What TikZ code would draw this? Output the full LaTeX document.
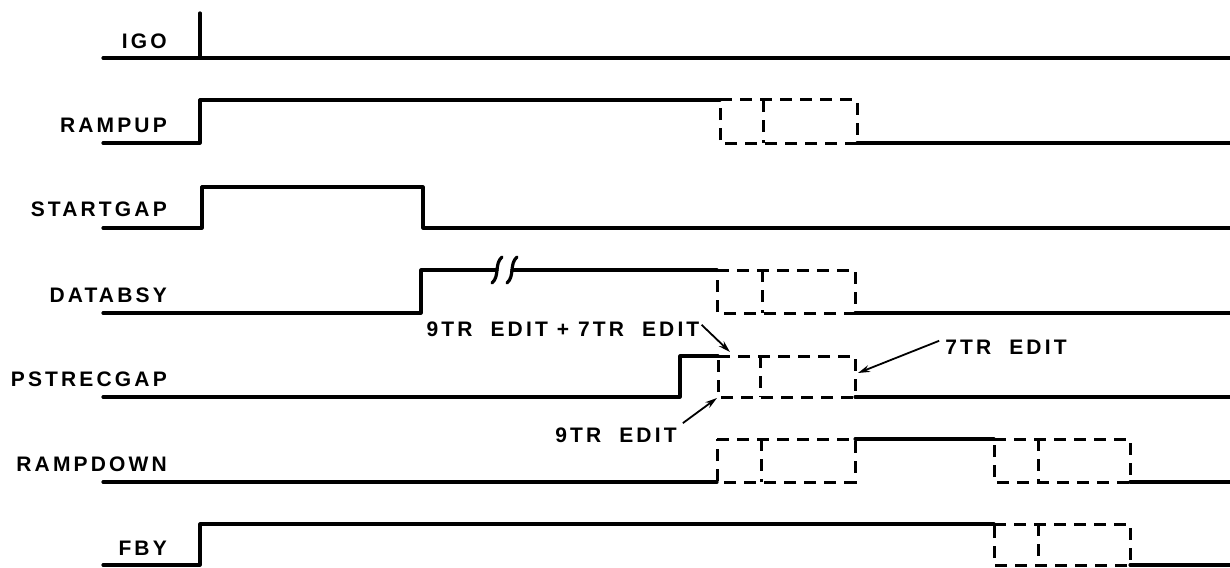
\documentclass[tikz,border=0pt]{standalone}
\usepackage{fontspec}
\setmainfont{Liberation Sans}
\newfontfamily\lbfont[LetterSpace=15]{Liberation Sans Bold}
\usetikzlibrary{arrows.meta}
\newcommand\tdbox[5]{%
  \draw[dsh] (#1,#4) -- (#3,#4) -- (#3,#5) -- (#1,#5) -- cycle;
  \draw[dsh] (#2,#4) -- (#2,#5);}
\begin{document}
\begin{tikzpicture}[x=1pt,y=-1pt,
  wave/.style={line width=3.2pt, line join=round, line cap=round},
  dsh/.style={line width=3pt, dash pattern=on 12pt off 8pt},
  lbl/.style={anchor=base east, inner sep=0pt, font=\lbfont\fontsize{21}{24}\selectfont},
  ann/.style={anchor=base, inner sep=0pt, font=\lbfont\fontsize{21}{24}\selectfont},
  arr/.style={line width=1.8pt, -{Stealth[length=12pt,width=7pt]}}]
\useasboundingbox (0,0) rectangle (1230,567);
% labels
\node[lbl] (lIGO) at (167,49) {IGO};
\node[lbl] (lRU) at (167,132) {RAMPUP};
\node[lbl] (lSG) at (167,216) {STARTGAP};
\node[lbl] (lDB) at (167,302) {DATABSY};
\node[lbl] (lPS) at (167,386) {PSTRECGAP};
\node[lbl] (lRD) at (167,471) {RAMPDOWN};
\node[lbl] (lFB) at (167,555) {FBY};
% IGO
\draw[wave] (103,58) -- (1230,58);
\draw[wave] (200,13) -- (200,58);
% RAMPUP
\draw[wave] (103,143) -- (200,143) -- (200,100) -- (720,100);
\tdbox{720}{763}{857}{100}{143}
\draw[wave] (857,143) -- (1230,143);
% STARTGAP
\draw[wave] (103,228) -- (202,228) -- (202,187) -- (423,187) -- (423,228) -- (1230,228);
% DATABSY
\draw[wave] (103,313) -- (421,313) -- (421,270) -- (497,270);
\draw[wave] (512,270) -- (717,270);
\draw[wave] (492,283) .. controls (500,276) and (494,264) .. (502,257);
\draw[wave] (507,283) .. controls (515,276) and (509,264) .. (517,257);
\tdbox{717}{762}{855}{270}{313}
\draw[wave] (855,313) -- (1230,313);
% PSTRECGAP
\draw[wave] (103,397) -- (680,397) -- (680,356) -- (718,356);
\tdbox{718}{760}{855}{356}{397}
\draw[wave] (855,397) -- (1230,397);
% RAMPDOWN
\draw[wave] (103,482) -- (717,482);
\tdbox{717}{761}{855}{439}{482}
\draw[wave] (855,439) -- (994,439);
\tdbox{994}{1038}{1130}{439}{482}
\draw[wave] (1130,482) -- (1230,482);
% FBY
\draw[wave] (103,565) -- (200,565) -- (200,524) -- (994,524);
\tdbox{994}{1038}{1130}{524}{565}
\draw[wave] (1130,565) -- (1230,565);
% annotations
\node[ann] (a1) at (563,336) {9TR\ \ EDIT + 7TR\ \ EDIT};
\node[ann] (a2) at (1006,354) {7TR\ \ EDIT};
\node[ann] (a3) at (616,442) {9TR\ \ EDIT};
\coordinate (t1) at (730,352);
\coordinate (t2) at (858,373);
\coordinate (t3) at (717,398);
\draw[arr] (a1.east) ++(2,-4) -- (t1);
\draw[arr] (a2.west) ++(-6,-6) -- (t2);
\draw[arr] (a3.north east) ++(6,-4) -- (t3);
\end{tikzpicture}
\end{document}
